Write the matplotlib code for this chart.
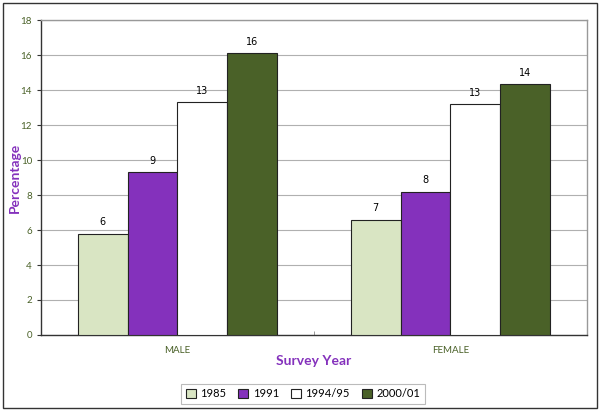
import matplotlib
matplotlib.use("Agg")
import matplotlib.pyplot as plt
from matplotlib.patches import Rectangle

# data
categories = ["MALE", "FEMALE"]
years = ["1985", "1991", "1994/95", "2000/01"]
v1985 = [5.8, 6.6]
v1991 = [9.3, 8.2]
v1994 = [13.3, 13.2]
v2000 = [16.1, 14.35]
labels = [[6, 7], [9, 8], [13, 13], [16, 14]]
colors = ["#d9e5c3", "#8431bc", "#ffffff", "#4a6128"]

series = [v1985, v1991, v1994, v2000]

plt.rcParams['font.family'] = ['Lato', 'DejaVu Sans']

fig = plt.figure(figsize=(6, 4.11), dpi=100)
ax = fig.add_axes([0.0683, 0.185, 0.9100, 0.766])

w = 0.183
xs = list(range(len(categories)))
for i, vals in enumerate(series):
    pos = [x + (i - 1.5) * w for x in xs]
    bars = ax.bar(pos, vals, width=w, color=colors[i], edgecolor="#222222",
                  linewidth=0.8, label=years[i], zorder=3)
    for b, lab in zip(bars, labels[i]):
        ax.text(b.get_x() + b.get_width() / 2, b.get_height() + 0.35, str(lab),
                ha="center", va="bottom", fontsize=7, color="black",
                family=['DejaVu Sans'])

ax.set_xlim(-0.5, 1.5)
ax.set_ylim(0, 18)
ax.set_yticks(range(0, 19, 2))
ax.set_xticks(xs)
ax.set_xticklabels(categories)
ax.set_xticks([0.5], minor=True)
ax.tick_params(axis="x", which="major", length=0, pad=8, labelsize=7, colors="#4a6128")
ax.tick_params(axis="x", which="minor", length=3, color="#888888", direction="in")
ax.tick_params(axis="y", length=3, labelsize=7, colors="#4a6128")
ax.tick_params(axis="y", color="#333333")

ax.grid(axis="y", color="#b0b0b0", linewidth=0.8, zorder=0)
ax.set_axisbelow(True)
for s in ["top", "right"]:
    ax.spines[s].set_color("#999999")
    ax.spines[s].set_linewidth(1.0)
for s in ["left", "bottom"]:
    ax.spines[s].set_color("#333333")
    ax.spines[s].set_linewidth(1.0)

ax.set_ylabel("Percentage", fontsize=10, fontweight="bold", color="#8431bc")
ax.yaxis.set_label_coords(-0.036, 0.5)
ax.set_xlabel("Survey Year", fontsize=10, fontweight="bold", color="#8431bc", labelpad=0)

leg = fig.legend(loc="lower center", bbox_to_anchor=(0.505, 0.004), ncol=4,
                 fontsize=8, frameon=True, fancybox=False, handlelength=0.9,
                 handleheight=0.9, handletextpad=0.4, columnspacing=1.1,
                 borderpad=0.4)
leg.get_frame().set_edgecolor("#aaaaaa")
leg.get_frame().set_linewidth(0.8)

# outer border
fig.patches.append(Rectangle((0.005, 0.008), 0.99, 0.985, transform=fig.transFigure,
                             fill=False, edgecolor="#333333", linewidth=1.0))

fig.savefig("out.png", dpi=100)
